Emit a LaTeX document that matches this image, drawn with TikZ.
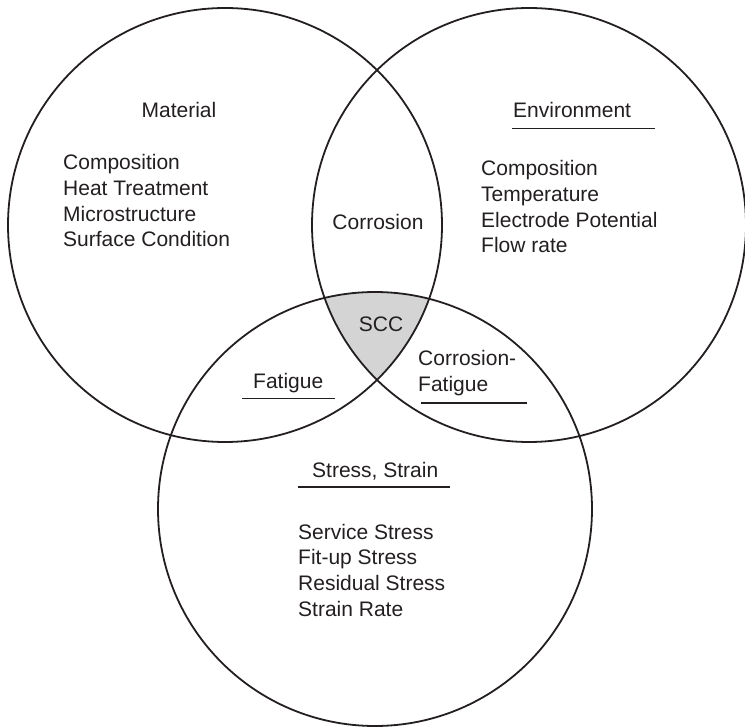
\documentclass[tikz,border=0pt]{standalone}
\usepackage{fontspec}
\setmainfont{Liberation Sans}
\definecolor{ink}{HTML}{231F20}
\definecolor{sccgray}{HTML}{D4D4D5}
\begin{document}
\begin{tikzpicture}[x=1pt,y=-1pt,
  ring/.style={draw=ink,line width=1.8pt,circle,minimum size=434pt,inner sep=0pt},
  lbl/.style={anchor=base west,inner sep=0pt,text=ink,font=\fontsize{21}{25.7}\selectfont},
  clbl/.style={anchor=base,inner sep=0pt,text=ink,font=\fontsize{21}{25.7}\selectfont},
  uline/.style={draw=ink,line width=1.6pt}]
\useasboundingbox (0,0) rectangle (745,727);
\coordinate (cL) at (225,225);
\coordinate (cR) at (529,225);
\coordinate (cB) at (375,509);
% SCC shading
\begin{scope}
  \clip (cL) circle[radius=217pt];
  \clip (cR) circle[radius=217pt];
  \fill[sccgray] (cB) circle[radius=217pt];
\end{scope}
\node[ring] (L) at (cL) {};
\node[ring] (R) at (cR) {};
\node[ring] (B) at (cB) {};
% Material
\node[clbl] (mat) at (179,118) {Material};
\node[lbl] (m1) at (63,170) {Composition};
\node[lbl] (m2) at (63,195.7) {Heat Treatment};
\node[lbl] (m3) at (63,221.4) {Microstructure};
\node[lbl] (m4) at (63,247) {Surface Condition};
% Environment
\node[lbl] (env) at (513,118) {Environment};
\draw[uline] (512,128.5) -- (655,128.5);
\node[lbl] (e1) at (481,176) {Composition};
\node[lbl] (e2) at (481,201.7) {Temperature};
\node[lbl] (e3) at (481,227.4) {Electrode Potential};
\node[lbl] (e4) at (481,253) {Flow rate};
% intersections
\node[clbl] (cor) at (378,229.5) {Corrosion};
\node[clbl] (scc) at (381,331.5) {SCC};
\node[lbl] (cf1) at (418,366) {Corrosion-};
\node[lbl] (cf2) at (418,391.7) {Fatigue};
\draw[uline] (421,403) -- (527,403);
\node[lbl] (fat) at (253,389) {Fatigue};
\draw[uline] (242,398.5) -- (335,398.5);
% Stress
\node[lbl] (ss) at (312,478) {Stress, Strain};
\draw[uline] (298,487) -- (450,487);
\node[lbl] (s1) at (298,539) {Service Stress};
\node[lbl] (s2) at (298,564.7) {Fit-up Stress};
\node[lbl] (s3) at (298,590.4) {Residual Stress};
\node[lbl] (s4) at (298,616) {Strain Rate};
\end{tikzpicture}
\end{document}
